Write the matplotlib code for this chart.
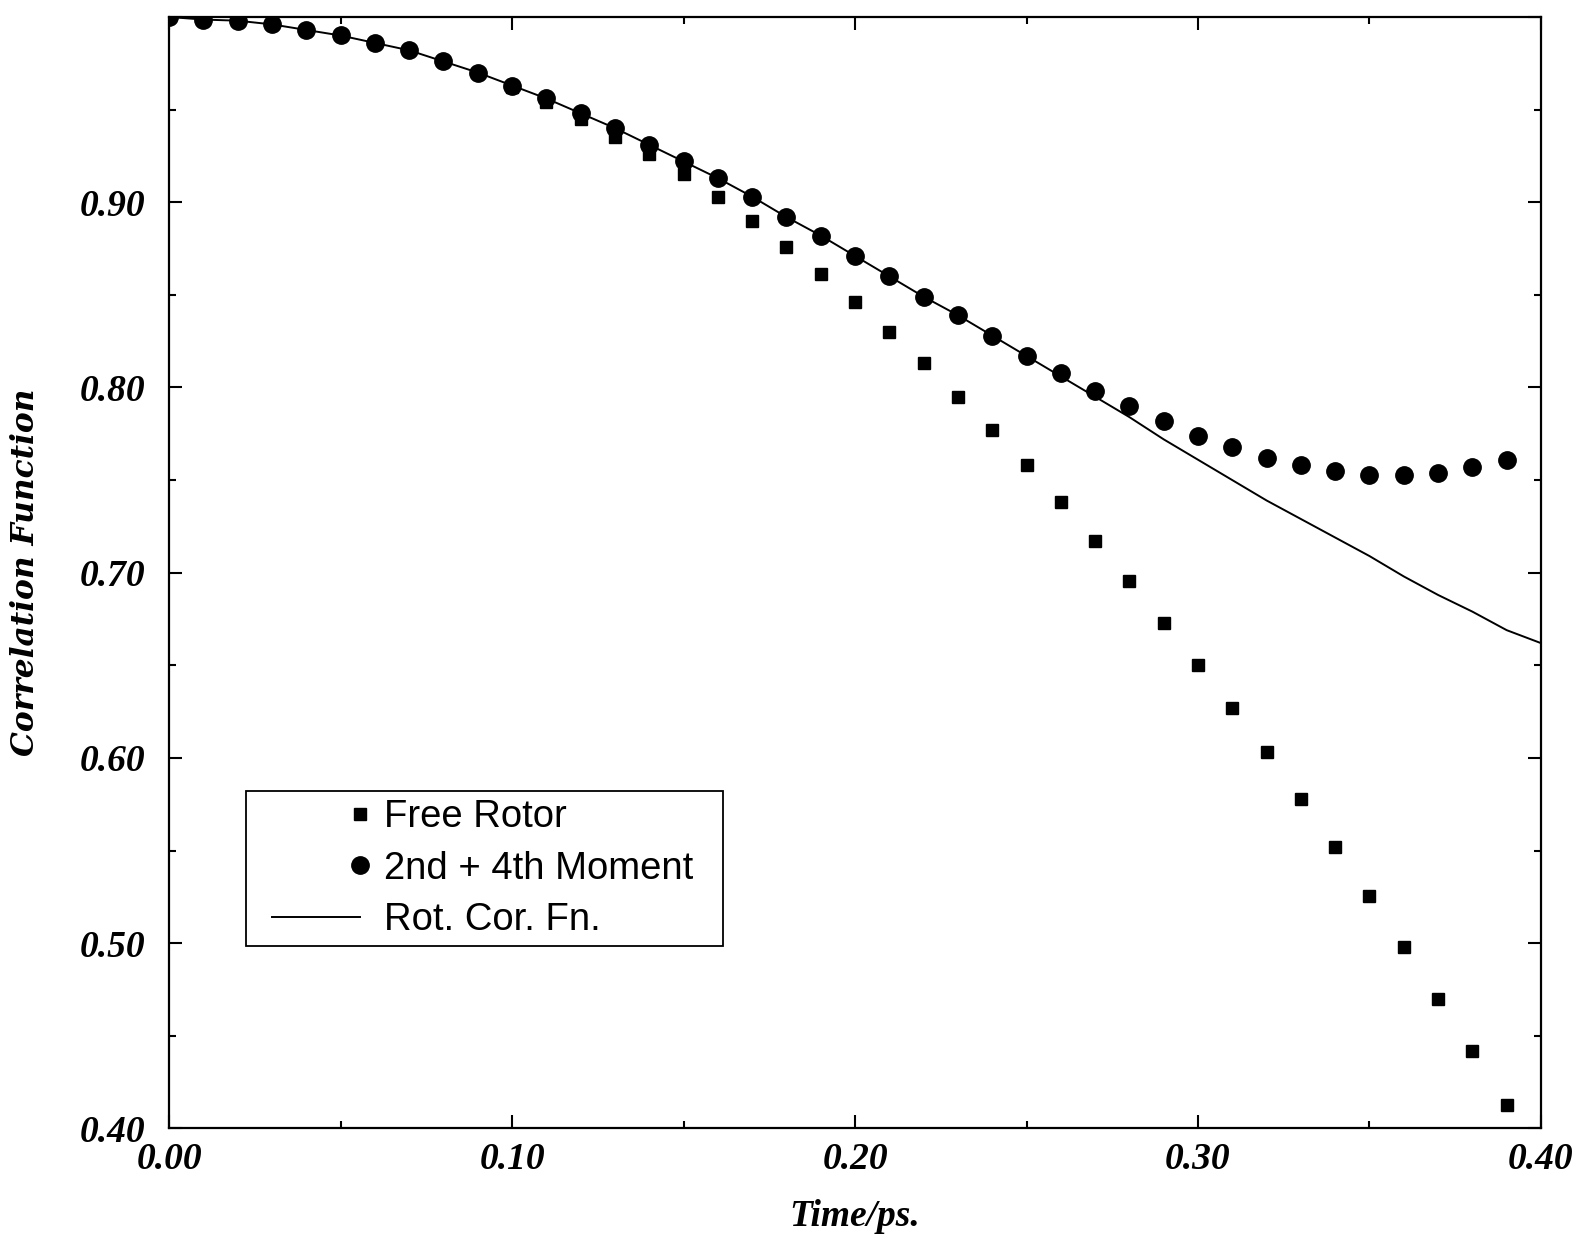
import numpy as np
import matplotlib
matplotlib.use('Agg')
import matplotlib.pyplot as plt
from matplotlib.lines import Line2D
from matplotlib.legend_handler import HandlerBase
from matplotlib.ticker import MultipleLocator, FuncFormatter

# time grid of the point series (ps)
time = [0.00, 0.01, 0.02, 0.03, 0.04, 0.05, 0.06, 0.07, 0.08, 0.09,
        0.10, 0.11, 0.12, 0.13, 0.14, 0.15, 0.16, 0.17, 0.18, 0.19,
        0.20, 0.21, 0.22, 0.23, 0.24, 0.25, 0.26, 0.27, 0.28, 0.29,
        0.30, 0.31, 0.32, 0.33, 0.34, 0.35, 0.36, 0.37, 0.38, 0.39]

free_rotor = [1.000, 0.9986, 0.998, 0.996, 0.993, 0.990, 0.986, 0.982, 0.976, 0.970,
              0.962, 0.954, 0.945, 0.935, 0.926, 0.915, 0.903, 0.890, 0.876, 0.861,
              0.846, 0.830, 0.813, 0.795, 0.777, 0.758, 0.738, 0.717, 0.6955, 0.673,
              0.650, 0.627, 0.603, 0.578, 0.552, 0.5255, 0.498, 0.470, 0.4416, 0.4125]

moment = [1.000, 0.9986, 0.998, 0.996, 0.993, 0.990, 0.986, 0.982, 0.976, 0.970,
          0.963, 0.956, 0.948, 0.940, 0.931, 0.922, 0.913, 0.903, 0.892, 0.882,
          0.871, 0.860, 0.849, 0.839, 0.828, 0.817, 0.808, 0.798, 0.790, 0.782,
          0.774, 0.768, 0.762, 0.758, 0.755, 0.753, 0.753, 0.754, 0.757, 0.761]

# rotational correlation function (solid curve)
rot_time = [0.00, 0.01, 0.02, 0.03, 0.04, 0.05, 0.06, 0.07, 0.08, 0.09,
            0.10, 0.11, 0.12, 0.13, 0.14, 0.15, 0.16, 0.17, 0.18, 0.19,
            0.20, 0.21, 0.22, 0.23, 0.24, 0.25, 0.26, 0.27, 0.28, 0.29,
            0.30, 0.31, 0.32, 0.33, 0.34, 0.35, 0.36, 0.37, 0.38, 0.39, 0.40]
rot_cor = [1.000, 0.9986, 0.998, 0.996, 0.993, 0.990, 0.986, 0.982, 0.976, 0.970,
           0.963, 0.956, 0.948, 0.940, 0.931, 0.922, 0.913, 0.903, 0.892, 0.882,
           0.871, 0.860, 0.849, 0.839, 0.828, 0.817, 0.806, 0.795, 0.784, 0.772,
           0.761, 0.750, 0.739, 0.729, 0.719, 0.709, 0.698, 0.688, 0.679, 0.669, 0.662]

plt.rcParams['font.family'] = ['Liberation Serif', 'DejaVu Serif']
plt.rcParams['font.weight'] = 'bold'
plt.rcParams['font.style'] = 'italic'


class EndHandler(HandlerBase):
    """legend handle: marker at the right end, or a line with a left offset"""
    def __init__(self, start_em=None):
        super().__init__()
        self.start_em = start_em

    def create_artists(self, legend, orig_handle, xdescent, ydescent,
                       width, height, fontsize, trans):
        y = (height - ydescent) / 2
        if self.start_em is None:
            xs = [width - xdescent]
        else:
            xs = [self.start_em * fontsize - xdescent, width - xdescent]
        art = Line2D(xs, [y] * len(xs))
        self.update_prop(art, orig_handle, legend)
        art.set_transform(trans)
        return [art]


fig = plt.figure(figsize=(15.8, 12.39), dpi=100)
ax = fig.add_axes([0.107, 0.0892, 0.8683, 0.8971])

sq, = ax.plot(time, free_rotor, ls='none', marker='s', ms=8.5, color='black',
              label='Free Rotor')
ci, = ax.plot(time, moment, ls='none', marker='o', ms=12.5, color='black',
              label='2nd + 4th Moment')
ln, = ax.plot(rot_time, rot_cor, '-', lw=1.4, color='black', label='Rot. Cor. Fn.')

ax.set_xlim(0, 0.40)
ax.set_ylim(0.40, 1.00)
ax.xaxis.set_major_locator(MultipleLocator(0.10))
ax.xaxis.set_minor_locator(MultipleLocator(0.05))
ax.yaxis.set_major_locator(MultipleLocator(0.10))
ax.yaxis.set_minor_locator(MultipleLocator(0.05))
ax.xaxis.set_major_formatter(FuncFormatter(lambda v, p: f'{v:.2f}'))
ax.yaxis.set_major_formatter(FuncFormatter(lambda v, p: '' if v > 0.95 else f'{v:.2f}'))

ax.tick_params(which='both', direction='in', top=True, right=True, width=1.5,
               labelsize=27)
ax.tick_params(which='major', length=9.5)
ax.tick_params(which='minor', length=5)
ax.tick_params(axis='y', pad=17)
ax.tick_params(axis='x', pad=10)
for s in ax.spines.values():
    s.set_linewidth(1.6)

ax.set_xlabel('Time/ps.', fontsize=27, fontweight='bold', va='center')
ax.xaxis.set_label_coords(0.5, -0.0796)
ax.set_ylabel('Correlation Function', fontsize=22.5, fontweight='bold', va='center',
              family=['DejaVu Serif'])
ax.yaxis.set_label_coords(-0.105, 0.5)

leg = ax.legend(handles=[sq, ci, ln],
                handler_map={sq: EndHandler(), ci: EndHandler(), ln: EndHandler(0.45)},
                loc='upper left', bbox_to_anchor=(0.0561, 0.1636, 0.3477, 0.14),
                mode='expand', borderaxespad=0, borderpad=0.22,
                handlelength=2.77, handletextpad=0.62, labelspacing=0.4,
                fancybox=False, framealpha=1, edgecolor='black',
                prop={'family': 'Liberation Sans', 'size': 27.5,
                      'weight': 'normal', 'style': 'normal'})
leg.get_frame().set_linewidth(1.3)

fig.savefig('out.png', dpi=100)
